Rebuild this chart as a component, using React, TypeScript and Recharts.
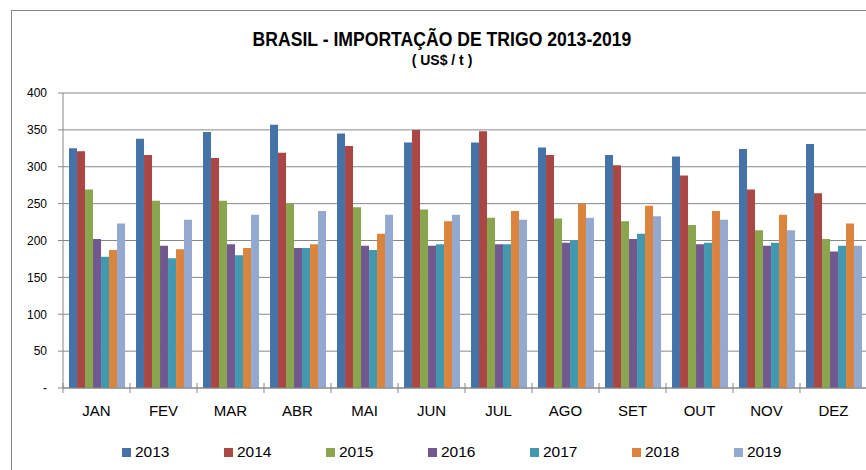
import React from 'react';
import { BarChart, Bar, XAxis, YAxis, CartesianGrid, Legend } from 'recharts';

const MONTHS = ['JAN', 'FEV', 'MAR', 'ABR', 'MAI', 'JUN', 'JUL', 'AGO', 'SET', 'OUT', 'NOV', 'DEZ'];

const Y2013 = [325, 338, 347, 357, 345, 333, 333, 326, 316, 314, 324, 331];
const Y2014 = [321, 316, 312, 319, 328, 350, 348, 316, 302, 288, 269, 264];
const Y2015 = [269, 254, 254, 250, 245, 242, 231, 230, 226, 221, 214, 202];
const Y2016 = [202, 193, 195, 190, 193, 193, 195, 197, 202, 195, 193, 185];
const Y2017 = [178, 176, 180, 190, 187, 195, 195, 200, 209, 197, 197, 193];
const Y2018 = [187, 188, 190, 195, 209, 226, 240, 250, 247, 240, 235, 223];
const Y2019 = [223, 228, 235, 240, 235, 235, 228, 231, 233, 228, 214, 193];

const YEARS = ['2013', '2014', '2015', '2016', '2017', '2018', '2019'];
const SERIES = [Y2013, Y2014, Y2015, Y2016, Y2017, Y2018, Y2019];
const COLORS = ['#4572A7', '#AA4643', '#89A54E', '#71588F', '#4198AF', '#DB843D', '#93A9CF'];

const Y_TICKS = [0, 50, 100, 150, 200, 250, 300, 350, 400];

const data = MONTHS.map((m, i) => {
  const row: Record<string, string | number> = { month: m };
  YEARS.forEach((y, k) => { row[y] = SERIES[k][i]; });
  return row;
});

const FONT = '"Liberation Sans", Arial, sans-serif';
const AXIS_GREY = '#888888';

// month label + boundary tick between categories (Excel style)
const MonthTick = (props: any) => {
  const { x, y, payload } = props;
  const half = payload?.offset ?? 33.5;
  return (
    <g>
      <line x1={x - half} x2={x - half} y1={y - 5} y2={y + 5} stroke={AXIS_GREY} strokeWidth={1} />
      <text x={x} y={y + 28} textAnchor="middle" fontFamily={FONT} fontSize={15} fill="#000">
        {payload.value}
      </text>
    </g>
  );
};

const YearLegend = (props: any) => {
  const items = props.payload ?? [];
  return (
    <div style={{ display: 'flex', paddingLeft: 122, height: 42, alignItems: 'center', paddingTop: 6, boxSizing: 'border-box' }}>
      {items.map((it: any) => (
        <div key={it.value} style={{ width: 102, display: 'flex', alignItems: 'center' }}>
          <span style={{ display: 'inline-block', width: 9, height: 9, background: it.color, marginRight: 4 }} />
          <span style={{ fontFamily: FONT, fontSize: 15.5, color: '#000', lineHeight: '16px' }}>{it.value}</span>
        </div>
      ))}
    </div>
  );
};

export default function App() {
  return (
    <div style={{ position: 'absolute', left: 0, top: 0, width: 866, height: 470, overflow: 'hidden', background: '#fff' }}>
      <div style={{ position: 'absolute', left: 11, top: 10, width: 900, height: 500, border: `1px solid ${AXIS_GREY}` }} />
      <div style={{ position: 'absolute', left: 0, top: 29, width: 884, textAlign: 'center', fontFamily: FONT, fontWeight: 700, fontSize: 20, lineHeight: '20px', color: '#000', transform: 'scaleX(0.88)', transformOrigin: '442px 0' }}>
        BRASIL - IMPORTAÇÃO DE TRIGO 2013-2019
      </div>
      <div style={{ position: 'absolute', left: 0, top: 53, width: 884, textAlign: 'center', fontFamily: FONT, fontWeight: 700, fontSize: 14, lineHeight: '14px', color: '#000' }}>
        ( US$ / t )
      </div>
      <div style={{ position: 'absolute', left: 0, top: 0 }}>
        <BarChart
          width={880}
          height={470}
          data={data}
          margin={{ top: 93, right: 13, left: 0, bottom: 0 }}
          barCategoryGap="9%"
          barGap={0}
        >
          <CartesianGrid vertical={false} stroke={AXIS_GREY} strokeWidth={1} />
          <XAxis
            dataKey="month"
            height={40}
            tick={<MonthTick />}
            tickLine={false}
            tickSize={0}
            tickMargin={0}
            axisLine={{ stroke: AXIS_GREY }}
            interval={0}
          />
          <YAxis
            width={63}
            domain={[0, 400]}
            ticks={Y_TICKS}
            tickFormatter={(v: number) => (v === 0 ? '-' : String(v))}
            tick={{ fontSize: 12, fill: '#000', fontFamily: FONT }}
            tickSize={5}
            tickMargin={11}
            tickLine={{ stroke: AXIS_GREY }}
            axisLine={{ stroke: AXIS_GREY }}
          />
          <Legend
            verticalAlign="bottom"
            height={42}
            content={<YearLegend />}
            wrapperStyle={{ left: 0, width: 880 }}
          />
          {YEARS.map((y, k) => (
            <Bar key={y} dataKey={y} fill={COLORS[k]} isAnimationActive={false} />
          ))}
        </BarChart>
      </div>
    </div>
  );
}
